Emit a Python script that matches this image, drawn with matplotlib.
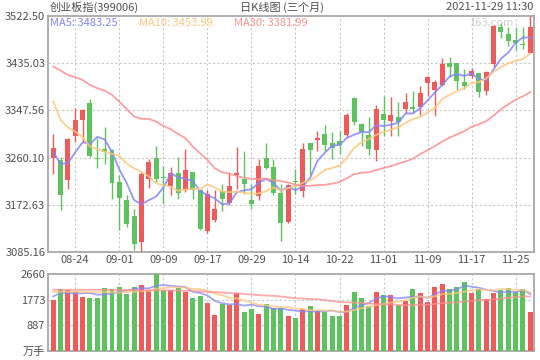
import numpy as np
import pandas as pd
import matplotlib
matplotlib.use("Agg")
import matplotlib.pyplot as plt

plt.rcParams['font.family'] = ['Noto Sans CJK SC', 'DejaVu Sans']

# trading days shown (2021-08-19 .. 2021-11-29)
dates = ["08-19", "08-20", "08-23", "08-24", "08-25", "08-26", "08-27", "08-30", "08-31",
         "09-01", "09-02", "09-03", "09-06", "09-07", "09-08", "09-09", "09-10", "09-13",
         "09-14", "09-15", "09-16", "09-17", "09-22", "09-23", "09-24", "09-27", "09-28",
         "09-29", "09-30", "10-08", "10-11", "10-12", "10-13", "10-14", "10-15", "10-18",
         "10-19", "10-20", "10-21", "10-22", "10-25", "10-26", "10-27", "10-28", "10-29",
         "11-01", "11-02", "11-03", "11-04", "11-05", "11-08", "11-09", "11-10", "11-11",
         "11-12", "11-15", "11-16", "11-17", "11-18", "11-19", "11-22", "11-23", "11-24",
         "11-25", "11-26", "11-29"]

opens = [3259.0, 3256.0, 3217.7, 3301.0, 3330.0, 3361.5, 3259.7, 3276.3, 3274.5, 3214.6,
         3181.9, 3151.1, 3104.2, 3220.8, 3259.7, 3224.5, 3206.6, 3231.9, 3199.2, 3233.1,
         3200.4, 3123.3, 3143.7, 3197.3, 3175.7, 3227.0, 3219.6, 3181.9, 3188.1, 3259.7,
         3242.4, 3194.9, 3140.0, 3217.1, 3197.3, 3287.4, 3293.0, 3304.1, 3287.4, 3291.7,
         3302.8, 3370.7, 3322.6, 3302.2, 3275.1, 3341.1, 3328.8, 3334.9, 3350.4, 3353.4,
         3353.4, 3398.5, 3385.5, 3395.4, 3434.9, 3434.9, 3399.7, 3412.1, 3416.4, 3384.3,
         3433.7, 3501.5, 3489.2, 3478.1, 3470.7, 3454.0]
highs = [3304.1, 3260.9, 3296.7, 3352.2, 3349.7, 3368.9, 3296.7, 3316.4, 3276.3, 3227.0,
         3189.9, 3165.3, 3233.1, 3256.6, 3281.3, 3244.2, 3242.4, 3260.9, 3276.3, 3233.8,
         3201.5, 3199.2, 3199.2, 3211.5, 3233.1, 3279.4, 3273.2, 3211.5, 3257.8, 3286.8,
         3257.8, 3211.5, 3211.5, 3239.3, 3286.8, 3288.0, 3309.0, 3320.7, 3307.2, 3309.0,
         3342.9, 3371.5, 3324.4, 3334.9, 3357.8, 3375.0, 3372.0, 3362.7, 3380.0, 3384.3,
         3393.5, 3411.0, 3404.0, 3444.8, 3446.0, 3435.5, 3424.4, 3426.2, 3417.0, 3420.1,
         3506.0, 3508.9, 3501.5, 3501.5, 3501.5, 3522.50]
lows = [3230.0, 3162.2, 3201.0, 3288.7, 3288.7, 3260.9, 3241.1, 3248.6, 3182.5, 3126.4,
        3131.3, 3089.4, 3085.16, 3203.5, 3214.6, 3173.3, 3189.9, 3182.5, 3196.1, 3183.8,
        3126.4, 3120.8, 3140.6, 3160.3, 3171.5, 3202.3, 3193.0, 3165.3, 3180.7, 3239.3,
        3189.9, 3104.8, 3138.7, 3193.0, 3186.9, 3227.0, 3273.2, 3273.2, 3256.6, 3267.1,
        3299.1, 3321.4, 3282.5, 3265.8, 3253.5, 3301.0, 3301.0, 3301.0, 3342.3, 3342.9,
        3339.9, 3375.0, 3338.0, 3393.5, 3409.0, 3385.5, 3387.4, 3407.7, 3373.2, 3376.9,
        3427.5, 3481.8, 3467.6, 3459.6, 3460.8, 3454.0]
closes = [3278.2, 3191.2, 3294.8, 3330.0, 3348.5, 3262.7, 3256.6, 3271.4, 3213.4, 3185.6,
          3137.5, 3100.5, 3228.8, 3252.3, 3219.6, 3221.4, 3231.3, 3194.9, 3237.4, 3199.2,
          3128.2, 3193.0, 3165.3, 3182.5, 3207.2, 3231.9, 3210.3, 3174.5, 3244.8, 3241.1,
          3194.9, 3138.7, 3209.7, 3214.0, 3276.3, 3274.5, 3296.7, 3284.3, 3278.2, 3284.3,
          3339.2, 3326.9, 3308.4, 3276.9, 3350.4, 3330.0, 3339.2, 3326.9, 3362.7, 3351.0,
          3380.0, 3410.2, 3399.7, 3433.7, 3428.7, 3402.8, 3393.5, 3420.1, 3382.4, 3418.2,
          3504.6, 3492.3, 3476.8, 3472.5, 3468.2, 3501.5]

# volume, 万手
volumes = [1770, 2151, 2116, 2047, 1874, 1839, 1839, 2186, 2151, 2220,
           1978, 2220, 2290, 2116, 2660, 2093, 2093, 2186, 2024, 1816,
           1908, 1665, 1249, 1619, 1596, 2012, 1353, 1457, 1284, 1631,
           1492, 1492, 1214, 1145, 1457, 1561, 1388, 1353, 1214, 1214,
           1596, 2047, 1839, 1561, 2047, 1943, 1943, 1596, 1712, 2151,
           2012, 1700, 2220, 2325, 2151, 2220, 2394, 2012, 2151, 1804,
           2012, 2116, 2186, 2047, 2151, 1353]

# moving average values before a full window exists
ma5_head = [3270.1, 3248.6, 3249.8, 3270.1]
ma10_head = [3363.9, 3330.0, 3315.8, 3308.4, 3297.9, 3280.6, 3275.7, 3271.4, 3267.1]
ma30_head = [3428.7, 3421.3, 3413.3, 3409.0, 3404.0, 3394.8, 3388.6, 3384.3, 3376.3, 3364.0,
             3349.7, 3336.2, 3331.9, 3331.9, 3326.9, 3318.9, 3312.7, 3304.1, 3296.1, 3280.6,
             3268.3, 3256.0, 3240.5, 3233.1, 3230.0, 3226.3, 3222.6, 3220.8, 3220.2]
vma5_head = [1885, 2012, 2001, 1989]
vma10_head = [2040, 2045, 2050, 2045, 2040, 2035, 2030, 2030, 2025]
vma30_head = [2115, 2115, 2115, 2115, 2115, 2115, 2115, 2112, 2110, 2108,
              2105, 2102, 2100, 2098, 2095, 2092, 2090, 2085, 2080, 2070,
              2060, 2050, 2035, 2020, 2005, 1990, 1970, 1950, 1930]

ma_labels = ["MA5", "MA10", "MA30"]
ma_last = [3483.25, 3453.99, 3381.99]
ma_colors = ["#8484ff", "#ffc77d", "#ff8f8f"]

title_left = "创业板指(399006)"
title_mid = "日K线图 (三个月)"
title_right = "2021-11-29 11:30"


def moving_avg(values, n, head):
    s = pd.Series(values, dtype=float).rolling(n).mean().to_numpy()
    s[:len(head)] = head
    return s


RED = "#ef5b5b"
GREEN = "#5ec35e"
TXT = "#505050"
GRID = "#c8c8c8"

o = np.array(opens)
h = np.array(highs)
l = np.array(lows)
c = np.array(closes)
v = np.array(volumes)
x = np.arange(len(dates))
up = c >= o
cols = np.where(up, RED, GREEN)

fig = plt.figure(figsize=(5.4, 3.6), dpi=100)
ax = fig.add_axes([48 / 540, 108 / 360, 486 / 540, 236 / 360])
axv = fig.add_axes([48 / 540, 9 / 360, 486 / 540, 77 / 360])

# candles
ax.vlines(x, l, h, colors=cols, linewidth=1, zorder=3)
body = np.maximum(np.abs(c - o), 1.2)
ax.bar(x, body, bottom=np.minimum(o, c), width=0.68, color=cols, linewidth=0, zorder=4)

ma_price = [moving_avg(closes, 5, ma5_head),
            moving_avg(closes, 10, ma10_head),
            moving_avg(closes, 30, ma30_head)]
for m, col in zip(ma_price, ma_colors):
    ax.plot(x, m, color=col, linewidth=1.3, alpha=0.85, zorder=5)

# volume
axv.bar(x, v, width=0.68, color=cols, linewidth=0, zorder=3)
ma_vol = [moving_avg(volumes, 5, vma5_head),
          moving_avg(volumes, 10, vma10_head),
          moving_avg(volumes, 30, vma30_head)]
for m, col in zip(ma_vol, ma_colors):
    axv.plot(x, m, color=col, linewidth=1.3, alpha=0.75, zorder=4)

# axes styling
ymin, ymax = l.min(), h.max()
yt = np.linspace(ymin, ymax, 6)
ax.set_ylim(ymin, ymax)
ax.set_yticks(yt)
ax.set_yticklabels([f"{t:.2f}" for t in yt])

vt = np.linspace(0, v.max(), 4)
axv.set_ylim(0, v.max())
axv.set_yticks(vt)
axv.set_yticklabels(["万手"] + [f"{t:.0f}" for t in vt[1:]])

xt = x[3::6]
for a in (ax, axv):
    a.set_xlim(-0.72, len(x) - 0.5)
    a.set_xticks(xt)
    for t in xt:
        a.axvline(t, color=GRID, linestyle=(0, (2, 2)), linewidth=0.8, zorder=1)
    for sp in a.spines.values():
        sp.set_color("#a8a8a8")
        sp.set_linewidth(1.3)
    a.tick_params(length=0, labelsize=8, colors=TXT, pad=2)

for t in yt[1:-1]:
    ax.axhline(t, color=GRID, linestyle=(0, (2, 2)), linewidth=0.8, zorder=1)
for t in vt[1:-1]:
    axv.axhline(t, color=GRID, linestyle=(0, (2, 2)), linewidth=0.8, zorder=1)

ax.set_xticklabels([dates[i] for i in xt])
axv.set_xticklabels([])

# MA legend text
for xpos, lab, val, col in zip([0.004, 0.187, 0.383], ma_labels, ma_last, ma_colors):
    ax.text(xpos, 0.97, f"{lab}: {val:.2f}", transform=ax.transAxes, color=col,
            fontsize=8, va="center", ha="left", zorder=6)
ax.text(0.958, 0.97, "163.com", transform=ax.transAxes, color="#cfcfcf",
        fontsize=8, va="center", ha="right", zorder=2)

fig.text(50 / 540, 1 - 7 / 360, title_left, fontsize=8, color=TXT, va="center", ha="left")
fig.text(282 / 540, 1 - 7 / 360, title_mid, fontsize=8, color=TXT, va="center", ha="center")
fig.text(533 / 540, 1 - 7 / 360, title_right, fontsize=8, color=TXT, va="center", ha="right")

fig.savefig("out.png", dpi=100)
